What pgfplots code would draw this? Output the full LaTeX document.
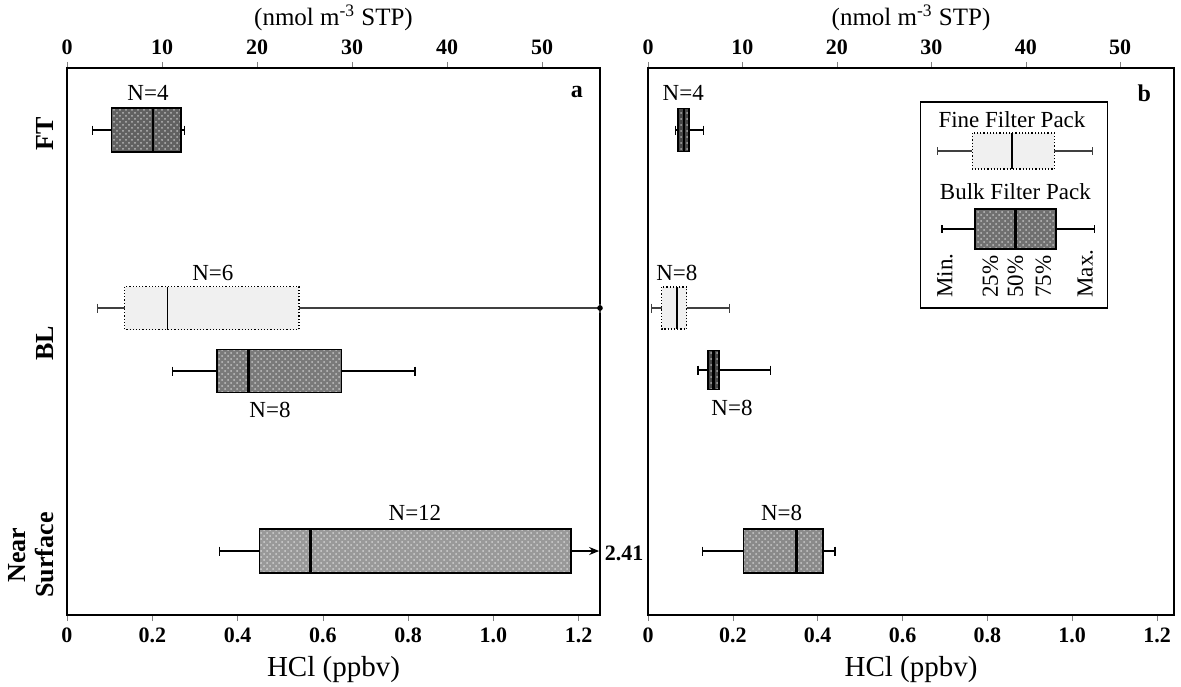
\documentclass[border=0pt]{standalone}
\usepackage{pgfplots}
\pgfplotsset{compat=1.18}
\usepgfplotslibrary{statistics}
\usetikzlibrary{arrows.meta, patterns}
\usepackage{fontspec}
\setmainfont{Liberation Serif}

\definecolor{fine}{gray}{0.94}
\definecolor{ftA}{gray}{0.38}
\definecolor{blA}{gray}{0.48}
\definecolor{nsA}{gray}{0.60}
\definecolor{smallB}{gray}{0.28}
\definecolor{nsB}{gray}{0.54}
\definecolor{legB}{gray}{0.44}

\tikzset{nlab/.style={font=\fontsize{11.5}{13}\selectfont},
  keylab/.style={font=\fontsize{11.5}{13}\selectfont, rotate=90, anchor=west, inner sep=0pt}}

\pgfplotsset{
  panel/.style={
    scale only axis, height=273.5pt,
    y dir=reverse, ymin=68, ymax=615, xmin=0,
    clip=false,
    axis line style={line width=0.8pt},
    xtick={0,0.2,0.4,0.6,0.8,1.0,1.2},
    xticklabels={0,0.2,0.4,0.6,0.8,1.0,1.2},
    xtick pos=lower, ytick pos=left,
    tick align=outside, major tick length=3pt,
    ytick style={draw=none},
    xticklabel style={font=\fontsize{11}{13}\selectfont\bfseries},
    xlabel={HCl (ppbv)},
    xlabel style={font=\fontsize{14.5}{16}\selectfont, yshift=0pt},
  },
  toppanel/.style={
    scale only axis, height=273.5pt,
    ymin=0, ymax=1, xmin=0,
    axis x line*=top, hide y axis,
    axis line style={line width=0.8pt},
    xtick={0,10,20,30,40,50},
    tick align=outside, major tick length=3pt,
    xticklabel style={font=\fontsize{11}{13}\selectfont\bfseries},
    /pgf/number format/assume math mode=true,
    xlabel={(nmol m\textsuperscript{-3} STP)},
    xlabel style={font=\fontsize{12.5}{14}\selectfont, yshift=-2pt},
  },
  darkbox/.style={
    draw=black,
    boxplot/every box/.style={draw=black, line width=0.8pt, fill=#1,
      postaction={pattern=crosshatch dots, pattern color=white!55!#1}},
    boxplot/every median/.style={draw=black, line width=1.3pt},
    boxplot/every whisker/.style={draw=black, line width=0.6pt},
  },
  lightbox/.style={
    draw=black,
    boxplot/every box/.style={draw=black, densely dotted, line width=0.6pt, fill=fine},
    boxplot/every median/.style={draw=black, solid, line width=0.7pt},
    boxplot/every whisker/.style={draw=black!75, line width=0.6pt},
  },
}

\begin{document}
\begin{tikzpicture}
\useasboundingbox (-33.5pt,-35.5pt) rectangle (557pt,307.5pt);

% ---- panel a ----
\begin{axis}[panel, at={(0,0)}, anchor=south west, width=266.5pt, xmax=1.25,
  ytick={130,339,551}, yticklabels={FT,BL,{Near\\Surface}},
  yticklabel style={rotate=90, anchor=south, align=center,
    font=\fontsize{13}{14}\selectfont\bfseries, xshift=-2pt}]
\addplot[darkbox=ftA, boxplot prepared={draw position=130, box extend=44, whisker extend=9,
  lower whisker=0.060, lower quartile=0.104, median=0.202, upper quartile=0.268, upper whisker=0.276}] coordinates {};
\addplot[lightbox, boxplot prepared={draw position=308, box extend=43, whisker extend=9,
  lower whisker=0.072, lower quartile=0.135, median=0.235, upper quartile=0.544, upper whisker=1.25}] coordinates {};
\addplot[darkbox=blA, boxplot prepared={draw position=371, box extend=43, whisker extend=9,
  lower whisker=0.247, lower quartile=0.352, median=0.425, upper quartile=0.644, upper whisker=0.816}] coordinates {};
\addplot[darkbox=nsA, boxplot prepared={draw position=551, box extend=44, whisker extend=9,
  lower whisker=0.357, lower quartile=0.451, median=0.571, upper quartile=1.182, upper whisker=1.182}] coordinates {};
\draw[line width=1pt, -{Stealth[length=5pt,width=4pt]}] (axis cs:1.182,551) -- (axis cs:1.248,551);
\fill (axis cs:1.25,308) circle (1.4pt);
\node[font=\fontsize{11}{13}\selectfont\bfseries, anchor=west, inner sep=1pt] at (axis cs:1.256,553) {2.41};
\node[nlab] at (axis cs:0.19,93) {N=4};
\node[nlab] at (axis cs:0.342,273) {N=6};
\node[nlab] at (axis cs:0.476,410) {N=8};
\node[nlab] at (axis cs:0.816,513) {N=12};
\node[font=\fontsize{12}{13}\selectfont\bfseries] at (axis cs:1.196,92) {a};
\end{axis}
\begin{axis}[toppanel, at={(0,0)}, anchor=south west, width=266.5pt, xmax=56.1]
\end{axis}

% ---- panel b ----
\begin{axis}[panel, at={(290.5pt,0)}, anchor=south west, width=263pt, xmax=1.24,
  ytick=\empty]
\addplot[darkbox=smallB, boxplot prepared={draw position=130, box extend=43, whisker extend=9,
  lower whisker=0.064, lower quartile=0.071, median=0.085, upper quartile=0.097, upper whisker=0.130}] coordinates {};
\addplot[lightbox, boxplot prepared={draw position=308, box extend=42, whisker extend=9,
  lower whisker=0.009, lower quartile=0.032, median=0.068, upper quartile=0.091, upper whisker=0.192}] coordinates {};
\addplot[darkbox=smallB, boxplot prepared={draw position=370, box extend=39, whisker extend=9,
  lower whisker=0.118, lower quartile=0.142, median=0.155, upper quartile=0.167, upper whisker=0.288}] coordinates {};
\addplot[darkbox=nsB, boxplot prepared={draw position=551, box extend=44, whisker extend=9,
  lower whisker=0.129, lower quartile=0.225, median=0.350, upper quartile=0.412, upper whisker=0.441}] coordinates {};
\node[nlab] at (axis cs:0.083,93) {N=4};
\node[nlab] at (axis cs:0.068,273) {N=8};
\node[nlab] at (axis cs:0.198,408) {N=8};
\node[nlab] at (axis cs:0.315,513) {N=8};
\node[font=\fontsize{12}{13}\selectfont\bfseries] at (axis cs:1.17,93) {b};
% key
\draw[line width=0.7pt] (axis cs:0.642,102) rectangle (axis cs:1.083,308);
\node[nlab] at (axis cs:0.858,120) {Fine Filter Pack};
\node[nlab] at (axis cs:0.866,192) {Bulk Filter Pack};
\addplot[lightbox, boxplot prepared={draw position=151, box extend=36, whisker extend=8,
  lower whisker=0.682, lower quartile=0.764, median=0.858, upper quartile=0.958, upper whisker=1.047}] coordinates {};
\addplot[darkbox=legB, boxplot prepared={draw position=229, box extend=40, whisker extend=8,
  lower whisker=0.693, lower quartile=0.771, median=0.866, upper quartile=0.962, upper whisker=1.052}] coordinates {};
\node[keylab] at (axis cs:0.700,298) {Min.};
\node[keylab] at (axis cs:0.807,298) {25\%};
\node[keylab] at (axis cs:0.866,298) {50\%};
\node[keylab] at (axis cs:0.932,298) {75\%};
\node[keylab] at (axis cs:1.031,298) {Max.};
\end{axis}
\begin{axis}[toppanel, at={(290.5pt,0)}, anchor=south west, width=263pt, xmax=55.7]
\end{axis}
\end{tikzpicture}
\end{document}
